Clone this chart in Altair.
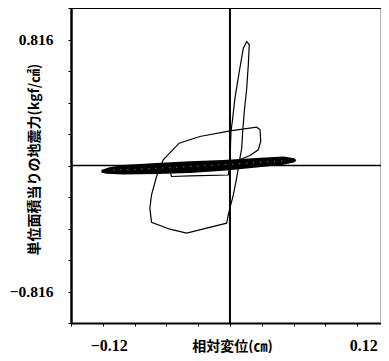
import altair as alt
import pandas as pd

# Axis ticks
x_ticks = [-0.15, -0.12, -0.09, -0.06, -0.03, 0.0, 0.03, 0.06, 0.09, 0.12]
x_labeled = [-0.12, 0.12]
y_ticks = [-1.02, -0.816, -0.612, -0.408, -0.204, 0.0, 0.204, 0.408, 0.612, 0.816, 1.02]
y_labeled = [-0.816, 0.816]
x_domain = [-0.15, 0.1425]
y_domain = [-1.02, 1.02]

# Dense, nearly flat hysteresis band (outline: upper edge left->right, lower edge right->left)
band_x = [-0.1212, -0.1134, -0.1008, -0.0693, -0.0378, -0.0063, 0.0252, 0.0504, 0.0605, 0.0615,
          0.0605, 0.0504, 0.0252, -0.0063, -0.0378, -0.0693, -0.1008, -0.1165, -0.1212]
band_y = [-0.0343, -0.0175, -0.0019, 0.0110, 0.0214, 0.0304, 0.0434, 0.0518, 0.0408, 0.0335,
          0.0259, 0.0110, -0.0065, -0.0278, -0.0434, -0.0499, -0.0518, -0.0473, -0.0389]

# Light gaps seen inside the dense band
gap_x = [-0.1100, -0.0900, -0.0500, -0.0100, 0.0250, 0.0520]
gap_y = [-0.0300, -0.0250, -0.0120, 0.0040, 0.0190, 0.0300]

# Thin loops: lower inner segment, tall narrow loop, large loop
loop_x = [-0.0567, -0.0551, -0.0378, -0.0016, 0.0000, 0.00095, 0.0022, 0.0047, 0.0088, 0.0126,
          0.0158, 0.0182, 0.0173, 0.0158, 0.0135, 0.0120, 0.0111, 0.0088, 0.0063, 0.0028,
          0.0007, -0.0016, -0.0031, -0.0220, -0.0409, -0.0567, -0.0740, -0.0756, -0.0740,
          -0.0693, -0.0630, -0.0479, -0.0284, 0.0000, 0.0252, 0.0284, 0.0290, 0.0267, 0.0189,
          0.0095]
loop_y = [-0.0389, -0.0712, -0.0667, -0.0615, 0.0259, 0.2202, 0.2849, 0.4358, 0.6087, 0.7596,
          0.8030, 0.7817, 0.6521, 0.5006, 0.3497, 0.2202, 0.1120, 0.0259, -0.0822, -0.2008,
          -0.2545, -0.3193, -0.3737, -0.4060, -0.4384, -0.4125, -0.3672, -0.2765, -0.1897,
          -0.0712, 0.0369, 0.1444, 0.1878, 0.2247, 0.2480, 0.2312, 0.1554, 0.1017, 0.0648,
          0.0389]

band = pd.DataFrame({"x": band_x, "y": band_y, "i": list(range(len(band_x)))})
gaps = pd.DataFrame({"x": gap_x, "y": gap_y, "i": list(range(len(gap_x)))})
loop = pd.DataFrame({"x": loop_x, "y": loop_y, "i": list(range(len(loop_x)))})
zero = pd.DataFrame({"v": [0.0]})
top = pd.DataFrame({"v": [y_domain[1]]})
right = pd.DataFrame({"v": [x_domain[1]]})

xs = alt.Scale(domain=x_domain, nice=False, zero=False)
ys = alt.Scale(domain=y_domain, nice=False, zero=False)

num_font = "Liberation Serif"
jp_font = "Noto Sans CJK JP"

xlab_expr = "abs(abs(datum.value) - %s) < 1e-6 ? format(datum.value, '.2f') : ''" % x_labeled[1]
ylab_expr = "abs(abs(datum.value) - %s) < 1e-6 ? format(datum.value, '.3f') : ''" % y_labeled[1]

xaxis = alt.Axis(
    values=x_ticks, labelExpr=xlab_expr, grid=False,
    domainColor="black", domainWidth=1.8, tickColor="black", tickSize=3, tickWidth=1,
    labelFont=num_font, labelFontWeight="bold", labelFontSize=16, labelColor="black",
    labelPadding=11, labelOffset=6, labelFlush=False, labelOverlap=False,
    title="相対変位(㎝)", titleFont=jp_font, titleFontWeight="bold", titleFontSize=14,
    titleColor="black", titleX=161, titleY=23, titleBaseline="middle", titleAlign="center",
)
yaxis = alt.Axis(
    values=y_ticks, labelExpr=ylab_expr, grid=False,
    domainColor="black", domainWidth=2.5, tickColor="black", tickSize=3, tickWidth=1,
    labelFont=num_font, labelFontWeight="bold", labelFontSize=15.5, labelColor="black",
    labelPadding=15, labelFlush=False, labelOverlap=False,
    title="単位面積当りの地震力(kgf/㎠)", titleFont=jp_font, titleFontWeight="bold",
    titleFontSize=14, titleColor="black", titleX=-37, titleY=151, titleAngle=-90,
    titleBaseline="middle", titleAlign="center",
)

vrule = alt.Chart(zero).mark_rule(color="black", strokeWidth=2).encode(
    x=alt.X("v:Q", scale=xs, axis=xaxis))
hrule = alt.Chart(zero).mark_rule(color="black", strokeWidth=1.5).encode(
    y=alt.Y("v:Q", scale=ys, axis=yaxis))
top_rule = alt.Chart(top).mark_rule(color="black", strokeWidth=2).encode(
    y=alt.Y("v:Q", scale=ys, axis=yaxis))
right_rule = alt.Chart(right).mark_rule(color="#9a9a9a", strokeWidth=1.5).encode(
    x=alt.X("v:Q", scale=xs, axis=xaxis))

loop_chart = alt.Chart(loop).mark_line(color="black", strokeWidth=1.2).encode(
    x=alt.X("x:Q", scale=xs, axis=xaxis),
    y=alt.Y("y:Q", scale=ys, axis=yaxis),
    order="i:Q",
)
band_chart = alt.Chart(band).mark_line(color="black", fill="black", strokeWidth=1.8).encode(
    x=alt.X("x:Q", scale=xs, axis=xaxis),
    y=alt.Y("y:Q", scale=ys, axis=yaxis),
    order="i:Q",
)
gap_chart = alt.Chart(gaps).mark_line(color="white", strokeWidth=0.8, opacity=0.8,
                                      strokeDash=[1, 6]).encode(
    x=alt.X("x:Q", scale=xs, axis=xaxis),
    y=alt.Y("y:Q", scale=ys, axis=yaxis),
    order="i:Q",
)

chart = alt.layer(right_rule, top_rule, vrule, hrule, loop_chart, band_chart, gap_chart).properties(
    width=310, height=315,
    autosize=alt.AutoSizeParams(type="none"),
    padding={"left": 63, "top": 0, "right": 0, "bottom": 30},
    background="white",
).configure_view(stroke=None)

chart.save("out.html", embed_options={"renderer": "svg", "actions": False})
